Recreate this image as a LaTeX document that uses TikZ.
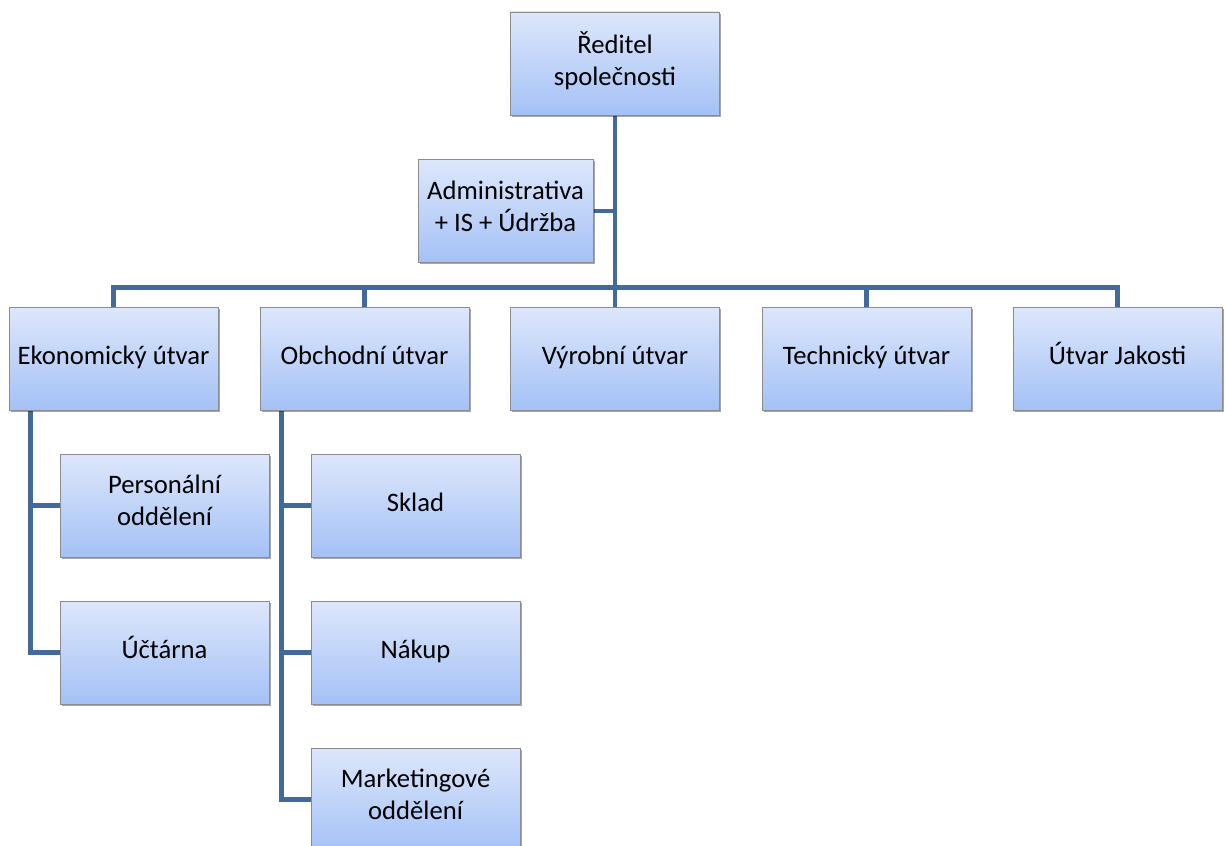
\documentclass[tikz,border=0pt]{standalone}
\usepackage{fontspec}
\setmainfont{Carlito}
\usetikzlibrary{shadows,backgrounds}
\definecolor{boxtop}{HTML}{DDE7FB}
\definecolor{boxbot}{HTML}{A4C1F6}
\definecolor{boxline}{HTML}{8C8C8C}
\definecolor{wirecol}{HTML}{41699C}
\tikzset{
  unit/.style={rectangle, draw=boxline, line width=0.6pt, top color=boxtop, bottom color=boxbot,
    minimum width=156.75pt, minimum height=77.25pt, inner sep=0pt, align=center,
    font=\fontsize{20}{24}\selectfont,
    execute at begin node=\strut, execute at end node=\strut,
    drop shadow={shadow xshift=1.2pt, shadow yshift=-1.2pt, opacity=0.35, fill=black}},
  wire/.style={draw=wirecol, line width=3.6pt}
}
\begin{document}
\begin{tikzpicture}[x=0.75pt,y=-0.75pt]
      \useasboundingbox (0,0) rectangle (1226,845);
      \clip (0,0) rectangle (1226,845);
      % utvary
      \path
        (615,63.5) node[unit] (red){Ředitel\\společnosti}
        (505.5,211) node[unit, minimum width=131.25pt] (adm){Administrativa\\+ IS + Údržba}
        (113.5,358.5) node[unit] (eko){Ekonomický útvar}
        (364.5,358.5) node[unit] (obc){Obchodní útvar}
        (615,358.5) node[unit] (vyr){Výrobní útvar}
        (866.5,358.5) node[unit] (tec){Technický útvar}
        (1117.5,358.5) node[unit] (jak){Útvar Jakosti}
        (164.5,505.5) node[unit] (per){Personální\\oddělení}
        (164.5,652.5) node[unit] (uct){Účtárna}
        (415.5,505.5) node[unit] (skl){Sklad}
        (415.5,652.5) node[unit] (nak){Nákup}
        (415.5,799.5) node[unit] (mkt){Marketingové\\oddělení};
      % spoje
      \coordinate (bus) at ([yshift=14.25pt]vyr.north);
      \coordinate (ekod) at ([xshift=16.5pt]eko.south west);
      \coordinate (obcd) at ([xshift=16.5pt]obc.south west);
      \begin{scope}[on background layer]
        \draw[wire] (red.south) -- (vyr.north);
        \draw[wire] (adm.east) -- (adm.east -| red.south);
        \draw[wire] (eko.north) |- (bus) -| (jak.north);
        \draw[wire] (obc.north) -- (obc.north |- bus);
        \draw[wire] (tec.north) -- (tec.north |- bus);
        \draw[wire] (ekod) |- (uct.west);
        \draw[wire] (ekod |- per.west) -- (per.west);
        \draw[wire] (obcd) |- (mkt.west);
        \draw[wire] (obcd |- skl.west) -- (skl.west);
        \draw[wire] (obcd |- nak.west) -- (nak.west);
      \end{scope}
\end{tikzpicture}
\end{document}
